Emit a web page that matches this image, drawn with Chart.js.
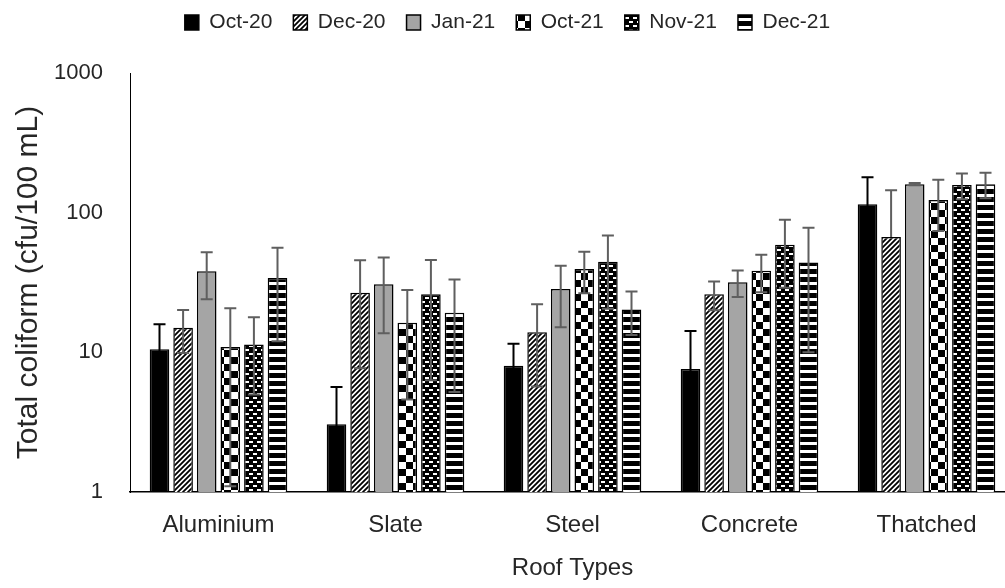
<!DOCTYPE html>
<html>
<head>
<meta charset="utf-8">
<script src="https://cdn.jsdelivr.net/npm/chart.js@4.4.1/dist/chart.umd.min.js"></script>
<style>
    html, body { margin: 0; padding: 0; background: #fff; overflow: hidden; }
</style>
</head>
<body>
<canvas id="chart" width="1015" height="588"></canvas>
<script>
/* global Chart */
const roofTypes = ["Aluminium", "Slate", "Steel", "Concrete", "Thatched"];
const yTicks = [1, 10, 100, 1000];

const oct20 = [10.5, 3.05, 8.0, 7.6, 115];
const oct20Err = [5.4, 2.6, 3.5, 6.6, 64];
const dec20 = [15.0, 26.7, 13.9, 26.1, 67];
const dec20Err = [5.1, 19, 8.2, 6.1, 78];
const jan21 = [38, 30.7, 28.4, 31.7, 160];
const jan21Err = [14, 17, 13.3, 6.8, 3];
const oct21 = [10.9, 16.3, 39.5, 38.4, 123];
const oct21Err = [9.8, 11.7, 13, 11.5, 49];
const nov21 = [11.4, 26.1, 44.5, 59, 158];
const nov21Err = [6.4, 19.8, 24, 30, 33];
const dec21 = [34, 19.2, 20.3, 44, 160];
const dec21Err = [22, 14, 7, 34, 33];

const ctx = document.getElementById("chart").getContext("2d");

function pattern(w, h, draw) {
    const c = document.createElement("canvas");
    c.width = w;
    c.height = h;
    draw(c.getContext("2d"));
    return ctx.createPattern(c, "repeat");
}

// diagonal hatch
const hatch = pattern(5, 5, function (g) {
    g.fillStyle = "#fff";
    g.fillRect(0, 0, 5, 5);
    g.strokeStyle = "#000";
    g.lineWidth = 1.8;
    g.beginPath();
    g.moveTo(-1, 6); g.lineTo(6, -1);
    g.moveTo(-1, 1); g.lineTo(1, -1);
    g.moveTo(4, 6); g.lineTo(6, 4);
    g.stroke();
});
// checkerboard
const checker = pattern(14, 14, function (g) {
    g.fillStyle = "#fff";
    g.fillRect(0, 0, 14, 14);
    g.fillStyle = "#000";
    g.fillRect(0, 0, 7, 7);
    g.fillRect(7, 7, 7, 7);
});
// black with small white dashes
const dashes = pattern(8, 8, function (g) {
    g.fillStyle = "#000";
    g.fillRect(0, 0, 8, 8);
    g.fillStyle = "#fff";
    g.fillRect(1, 1, 4, 2);
    g.fillRect(5, 5, 4, 2);
    g.fillRect(-3, 5, 4, 2);
});
// horizontal stripes
const stripes = pattern(8, 8, function (g) {
    g.fillStyle = "#000";
    g.fillRect(0, 0, 8, 8);
    g.fillStyle = "#fff";
    g.fillRect(0, 2, 8, 3);
});

const errorBars = {
    id: "errorBars",
    afterDatasetsDraw(chart) {
        const c = chart.ctx;
        const y = chart.scales.y;
        const a = chart.chartArea;
        c.save();
        c.beginPath();
        c.rect(a.left, a.top, a.right - a.left, a.bottom - a.top);
        c.clip();
        chart.data.datasets.forEach(function (ds, i) {
            const meta = chart.getDatasetMeta(i);
            if (meta.hidden) return;
            c.strokeStyle = ds.errorColor;
            c.lineWidth = 2;
            meta.data.forEach(function (bar, j) {
                const v = ds.data[j];
                const e = ds.errors[j];
                const top = y.getPixelForValue(v + e);
                const hasLow = v - e > 0;
                const bot = hasLow ? y.getPixelForValue(v - e) : bar.y;
                c.beginPath();
                c.moveTo(bar.x, top);
                c.lineTo(bar.x, bot);
                c.moveTo(bar.x - 6, top);
                c.lineTo(bar.x + 6, top);
                if (hasLow) {
                    c.moveTo(bar.x - 6, bot);
                    c.lineTo(bar.x + 6, bot);
                }
                c.stroke();
            });
        });
        c.restore();
    },
};

const legendHeight = {
    id: "legendHeight",
    afterInit(chart) {
        const fit = chart.legend.fit;
        chart.legend.fit = function () {
            fit.call(this);
            this.height = 82;
        };
    },
};

Chart.defaults.font.family = "'Liberation Sans', Arial, sans-serif";
Chart.defaults.color = "#262626";

function series(label, data, errors, fill, errorColor) {
    return {
        label: label,
        data: data,
        errors: errors,
        errorColor: errorColor,
        backgroundColor: fill,
        borderColor: "#000",
        borderWidth: 1.5,
        categoryPercentage: 0.8,
        barPercentage: 0.83,
    };
}

new Chart(ctx, {
    type: "bar",
    data: {
        labels: roofTypes,
        datasets: [
            series("Oct-20", oct20, oct20Err, "#000", "#000"),
            series("Dec-20", dec20, dec20Err, hatch, "#5f5f5f"),
            series("Jan-21", jan21, jan21Err, "#a5a5a5", "#5f5f5f"),
            series("Oct-21", oct21, oct21Err, checker, "#5f5f5f"),
            series("Nov-21", nov21, nov21Err, dashes, "#5f5f5f"),
            series("Dec-21", dec21, dec21Err, stripes, "#5f5f5f"),
        ],
    },
    options: {
        responsive: false,
        animation: false,
        devicePixelRatio: 1,
        layout: { padding: { top: -9, left: 0, right: 0, bottom: 0 } },
        plugins: {
            tooltip: { enabled: false },
            legend: {
                position: "top",
                labels: {
                    boxWidth: 14,
                    boxHeight: 15,
                    padding: 21,
                    color: "#262626",
                    font: { size: 21 },
                },
            },
        },
        scales: {
            x: {
                grid: { display: false, drawTicks: false },
                border: { display: true, color: "#000", width: 1.5 },
                ticks: { padding: 19, maxRotation: 0, font: { size: 24 }, color: "#262626" },
                title: {
                    display: true,
                    text: "Roof Types",
                    color: "#262626",
                    font: { size: 24 },
                    padding: { top: 0, bottom: 5 },
                },
                afterFit(scale) {
                    scale.height = 96;
                },
            },
            y: {
                type: "logarithmic",
                min: 1,
                max: 1000,
                grid: { display: false, drawTicks: false },
                border: { display: true, color: "#000", width: 1 },
                ticks: {
                    padding: 27,
                    autoSkip: false,
                    font: { size: 22 },
                    color: "#262626",
                    callback: function (v) {
                        return String(v);
                    },
                },
                afterBuildTicks(scale) {
                    scale.ticks = yTicks.map(function (v) {
                        return { value: v };
                    });
                },
                title: {
                    display: true,
                    text: "Total coliform (cfu/100 mL)",
                    color: "#262626",
                    font: { size: 30 },
                    padding: { top: 11, bottom: 0 },
                },
                afterFit(scale) {
                    scale.width = 130;
                },
            },
        },
    },
    plugins: [errorBars, legendHeight],
});
</script>
</body>
</html>
